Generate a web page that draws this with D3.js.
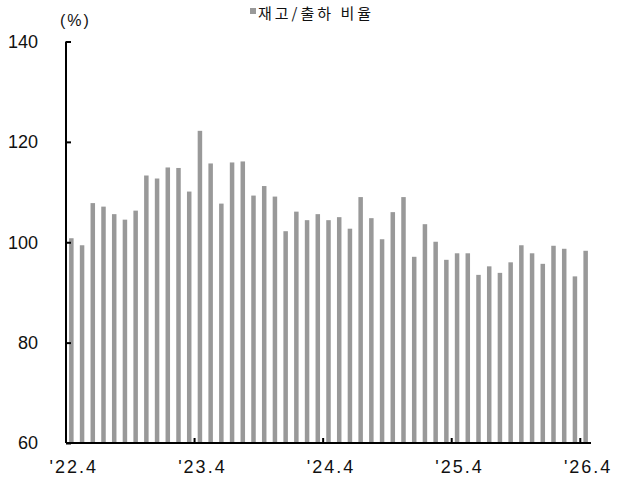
<!DOCTYPE html>
<html>
<head>
<meta charset="utf-8">
<script src="https://cdn.jsdelivr.net/npm/d3@7"></script>
<style>
  html, body { margin: 0; padding: 0; background: #fff; }
  svg { display: block; }
</style>
</head>
<body>
<svg id="chart" width="624" height="481"></svg>
<script>
const categories = [
  "'22.4","'22.5","'22.6","'22.7","'22.8","'22.9","'22.10","'22.11","'22.12","'23.1","'23.2","'23.3",
  "'23.4","'23.5","'23.6","'23.7","'23.8","'23.9","'23.10","'23.11","'23.12","'24.1","'24.2","'24.3",
  "'24.4","'24.5","'24.6","'24.7","'24.8","'24.9","'24.10","'24.11","'24.12","'25.1","'25.2","'25.3",
  "'25.4","'25.5","'25.6","'25.7","'25.8","'25.9","'25.10","'25.11","'25.12","'26.1","'26.2","'26.3",
  "'26.4"
];
const ratioValues = [
  100.8, 99.4, 107.8, 107.1, 105.6, 104.5, 106.3, 113.3, 112.7, 114.9, 114.8, 110.1,
  122.2, 115.7, 107.7, 115.9, 116.1, 109.3, 111.2, 109.1, 102.2, 106.1, 104.4, 105.6,
  104.4, 105.0, 102.7, 109.0, 104.8, 100.6, 106.0, 109.0, 97.1, 103.6, 100.1, 96.5,
  97.8, 97.8, 93.5, 95.2, 93.9, 96.0, 99.4, 97.8, 95.7, 99.3, 98.7, 93.2,
  98.3
];
const xTickLabels = ["'22.4", "'23.4", "'24.4", "'25.4", "'26.4"];
const yTicks = [60, 80, 100, 120, 140];
const seriesName = "재고/출하 비율";
const unitLabel = "(%)";

const svg = d3.select("#chart");
const mLeft = 66, mRight = 591, mTop = 41.5, mBottom = 443;

const x = d3.scaleBand()
  .domain(categories)
  .range([mLeft, mRight])
  .paddingInner(0.58)
  .paddingOuter(0.29);

const y = d3.scaleLinear().domain([60, 140]).range([mBottom, mTop]);

// bars
svg.append("g").selectAll("rect")
  .data(ratioValues)
  .join("rect")
  .attr("x", (d, i) => x(categories[i]))
  .attr("width", x.bandwidth())
  .attr("y", d => y(d))
  .attr("height", d => y(60) - y(d))
  .attr("fill", "#999999");

// y axis
const yAxis = d3.axisLeft(y).tickValues(yTicks).tickSize(-5).tickPadding(28).tickFormat(d3.format("d"));
const gy = svg.append("g").attr("transform", `translate(${mLeft},0)`).call(yAxis);
gy.select(".domain").attr("stroke", "#000").attr("stroke-width", 2).attr("d", `M0,${mTop}V${mBottom}`);
gy.selectAll(".tick line").attr("stroke", "#000").attr("stroke-width", 2);
gy.selectAll(".tick text")
  .attr("font-family", "'Liberation Sans', Arial, sans-serif")
  .attr("font-size", 18)
  .attr("fill", "#111");

// x axis
const step = x.step();
const gap = (step - x.bandwidth()) / 2;
const xAxisG = svg.append("g");
xAxisG.append("line")
  .attr("x1", mLeft).attr("x2", mRight)
  .attr("y1", mBottom).attr("y2", mBottom)
  .attr("stroke", "#000").attr("stroke-width", 2);
xAxisG.selectAll("line.tk")
  .data(xTickLabels.slice(1))
  .join("line")
  .attr("class", "tk")
  .attr("x1", d => x(d) - gap).attr("x2", d => x(d) - gap)
  .attr("y1", mBottom).attr("y2", mBottom - 5)
  .attr("stroke", "#000").attr("stroke-width", 2);
xAxisG.selectAll("text")
  .data(xTickLabels)
  .join("text")
  .attr("x", d => x(d) + x.bandwidth() / 2 + 2.5)
  .attr("y", 473)
  .attr("text-anchor", "middle")
  .attr("font-family", "'Liberation Sans', Arial, sans-serif")
  .attr("font-size", 18)
  .attr("letter-spacing", 2)
  .attr("fill", "#111")
  .text(d => d);

// unit label
svg.append("text")
  .attr("x", 60).attr("y", 26)
  .attr("font-family", "'Liberation Sans', Arial, sans-serif")
  .attr("font-size", 16)
  .attr("letter-spacing", 2)
  .attr("fill", "#111")
  .text(unitLabel);

// legend
svg.append("rect")
  .attr("x", 250).attr("y", 8).attr("width", 6).attr("height", 6)
  .attr("fill", "#999999");
svg.append("text")
  .attr("x", 258).attr("y", 18.5)
  .attr("font-family", "'Noto Sans CJK KR', sans-serif")
  .attr("font-size", 15)
  .attr("letter-spacing", 3)
  .attr("fill", "#111")
  .text(seriesName);
</script>
</body>
</html>
